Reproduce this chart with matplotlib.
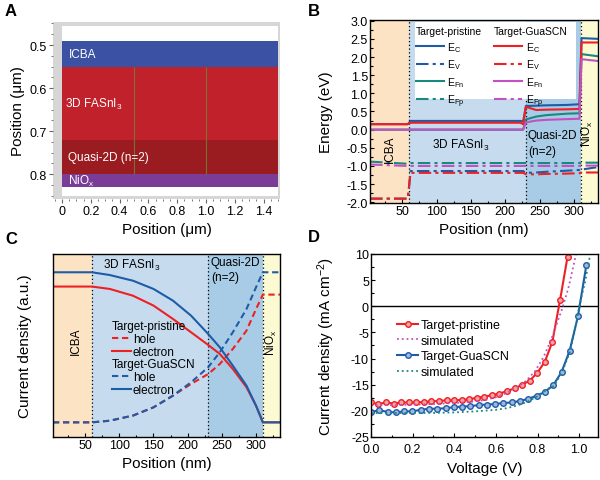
import matplotlib
matplotlib.use("Agg")
import matplotlib.pyplot as plt
import numpy as np
from matplotlib.lines import Line2D
from matplotlib.patches import Rectangle
from matplotlib.ticker import MultipleLocator

plt.rcParams['font.family'] = ['Liberation Sans', 'DejaVu Sans']
plt.rcParams['mathtext.fontset'] = 'custom'
plt.rcParams['mathtext.rm'] = 'Liberation Sans'
plt.rcParams['mathtext.it'] = 'Liberation Sans:italic'
plt.rcParams['mathtext.bf'] = 'Liberation Sans:bold'
plt.rcParams['axes.unicode_minus'] = False

# ---------------- panel A : device stack ----------------
layer_names = ['ICBA', '3D FASnI$_3$', 'Quasi-2D (n=2)', 'NiO$_\\mathrm{x}$']
layer_top = [0.49, 0.55, 0.72, 0.80]
layer_bottom = [0.55, 0.72, 0.80, 0.83]
layer_colors = ['#3b51a3', '#c0212b', '#9a1b20', '#7b3c98']
label_x = [0.05, 0.02, 0.04, 0.04]
mesh_x = [0.5, 1.0]
device_width = 1.5
domain_top, domain_bottom = 0.456, 0.851

# ---------------- regions for B and C ----------------
region_edges = [3, 60, 230, 310, 335]
region_colors = ['#fbe3c4', '#c6dcee', '#a9cce6', '#fcfad2']

# ---------------- panel B : band diagram ----------------
pos_B = [3, 58, 62, 222, 226, 230, 245, 260, 290, 308, 311, 335]
Ec_pristine = [0.15, 0.15, 0.24, 0.24, 0.23, 0.65, 0.66, 0.67, 0.68, 0.70, 2.52, 2.50]
Ec_gua = [0.15, 0.15, 0.19, 0.19, 0.15, 0.63, 0.54, 0.55, 0.56, 0.57, 2.40, 2.40]
Efn_pristine = [0.0, 0.0, 0.0, 0.0, 0.0, 0.28, 0.36, 0.40, 0.44, 0.45, 2.08, 2.02]
Efn_gua = [0.0, 0.0, 0.0, 0.0, 0.0, 0.20, 0.25, 0.27, 0.29, 0.30, 1.94, 1.89]
Ev_pristine = [-1.9, -1.9, -1.14, -1.14, -1.14, -1.19, -1.18, -1.16, -1.13, -1.11, -1.10, -1.03]
Ev_gua = [-1.9, -1.9, -1.19, -1.19, -1.19, -1.23, -1.23, -1.22, -1.21, -1.20, -1.18, -1.18]
Efp_pristine = [-0.88, -0.94, -0.92, -0.92, -0.92, -0.92, -0.92, -0.92, -0.92, -0.92, -0.91, -0.91]
Efp_gua = [-0.96, -1.0, -1.0, -1.0, -1.0, -1.0, -1.0, -1.0, -1.0, -1.0, -0.99, -0.99]

# ---------------- panel C : current density ----------------
pos_C = [3, 60, 86, 120, 150, 178.5, 205, 230, 247, 266, 286, 300, 310, 335]
je_gua = [0.90, 0.90, 0.885, 0.854, 0.809, 0.745, 0.663, 0.563, 0.49, 0.39, 0.281, 0.171, 0.08, 0.08]
je_pristine = [0.822, 0.822, 0.809, 0.772, 0.718, 0.645, 0.572, 0.503, 0.454, 0.372, 0.272, 0.171, 0.08, 0.08]
jh_gua = [0.08, 0.08, 0.089, 0.117, 0.162, 0.226, 0.299, 0.381, 0.463, 0.572, 0.699, 0.818, 0.90, 0.90]
jh_pristine = [0.08, 0.08, 0.089, 0.117, 0.162, 0.226, 0.29, 0.344, 0.399, 0.481, 0.581, 0.699, 0.778, 0.778]

# ---------------- panel D : J-V ----------------
V_pristine = [0.0, 0.036, 0.073, 0.109, 0.145, 0.182, 0.218, 0.254, 0.290, 0.327, 0.363, 0.399, 0.436,
              0.472, 0.508, 0.545, 0.581, 0.617, 0.654, 0.690, 0.726, 0.763, 0.799, 0.835, 0.871, 0.908, 0.944]
J_pristine = [-18.4, -18.7, -18.4, -18.6, -18.4, -18.4, -18.4, -18.3, -18.2, -18.1, -18.0, -18.0, -17.9,
              -17.8, -17.5, -17.3, -17.0, -16.7, -16.2, -15.7, -15.0, -14.2, -12.7, -10.6, -6.8, 1.2, 9.5]
V_gua = [0.0, 0.040, 0.080, 0.119, 0.159, 0.199, 0.239, 0.278, 0.318, 0.358, 0.398, 0.437, 0.477,
         0.517, 0.557, 0.597, 0.636, 0.676, 0.716, 0.756, 0.795, 0.835, 0.875, 0.915, 0.954, 0.994, 1.034]
J_gua = [-20.2, -19.9, -20.2, -20.3, -20.1, -20.1, -19.8, -19.6, -19.6, -19.5, -19.3, -19.2, -19.1,
         -18.9, -18.8, -18.7, -18.5, -18.4, -18.1, -17.7, -17.1, -16.4, -15.1, -12.6, -8.5, -1.9, 7.8]
V_sim_pristine = [0.0, 0.1, 0.2, 0.3, 0.4, 0.5, 0.55, 0.6, 0.65, 0.7, 0.744, 0.79, 0.83, 0.864, 0.9, 0.922, 0.95, 0.985, 1.0]
J_sim_pristine = [-18.9, -18.9, -18.8, -18.7, -18.5, -18.2, -17.9, -17.4, -16.6, -15.5, -14.3, -12.3, -9.6, -6.5, -2.5, 0.0, 3.8, 10.0, 12.5]
V_sim_gua = [0.0, 0.1, 0.2, 0.3, 0.4, 0.5, 0.6, 0.65, 0.7, 0.75, 0.8, 0.85, 0.88, 0.917, 0.955, 0.98, 1.0, 1.03, 1.053, 1.07]
J_sim_gua = [-20.4, -20.4, -20.4, -20.4, -20.3, -20.1, -19.8, -19.5, -19.0, -18.3, -17.2, -15.8, -15.2, -12.6, -8.8, -4.5, 0.0, 5.0, 10.0, 13.0]

blue = '#1f5ca8'
red = '#ee2024'
teal = '#17897f'
magenta = '#c251c2'
dashdot = (0, (6, 2, 1.5, 2))

fig = plt.figure(figsize=(6, 4.81), dpi=100)

# ===== A =====
axA = fig.add_axes([0.0883, 0.5842, 0.3783, 0.3680])
axA.set_facecolor('#d6d6d6')
axA.barh([domain_top], [device_width], height=[domain_bottom - domain_top], left=0,
         align='edge', color='white')
axA.barh(layer_top, device_width, height=np.subtract(layer_bottom, layer_top), left=0,
         align='edge', color=layer_colors)
axA.vlines(mesh_x, layer_top[1], layer_bottom[2], color='#7d7030', lw=0.8)
for name, x0, t, b in zip(layer_names, label_x, layer_top, layer_bottom):
    axA.text(x0, (t + b) / 2, name, color='white', fontsize=8.5, va='center', ha='left')
axA.set_xlim(-0.0625, 1.514)
axA.set_ylim(0.858, 0.4465)
for s in axA.spines.values():
    s.set_visible(False)
axA.set_xticks([0, 0.2, 0.4, 0.6, 0.8, 1.0, 1.2, 1.4])
axA.set_xticklabels(['0', '0.2', '0.4', '0.6', '0.8', '1.0', '1.2', '1.4'])
axA.set_yticks([0.5, 0.6, 0.7, 0.8])
axA.set_yticklabels(['0.5', '0.6', '0.7', '0.8'])
axA.xaxis.set_minor_locator(MultipleLocator(0.05))
axA.yaxis.set_minor_locator(MultipleLocator(0.025))
axA.tick_params(which='both', direction='out', color='#666666', labelsize=9, pad=1.5)
axA.tick_params(which='major', length=3)
axA.tick_params(which='minor', length=1.5)
axA.set_xlabel('Position (μm)', fontsize=11)
axA.set_ylabel('Position (μm)', fontsize=11)
axA.xaxis.set_label_coords(0.5, -0.128)
axA.yaxis.set_label_coords(-0.125, 0.5)


def shade(ax):
    for i in range(4):
        ax.axvspan(region_edges[i], region_edges[i + 1], color=region_colors[i], lw=0, zorder=0)
    for xb in region_edges[1:4]:
        ax.axvline(xb, color='k', ls=(0, (1, 2)), lw=0.9, zorder=1)


def style(ax):
    ax.tick_params(which='both', direction='in', labelsize=9, pad=1.5, width=0.8)
    ax.tick_params(which='major', length=3)
    ax.tick_params(which='minor', length=1.8)
    for s in ax.spines.values():
        s.set_linewidth(1.0)


# ===== B =====
axB = fig.add_axes([0.6167, 0.5759, 0.38, 0.3805])
shade(axB)
axB.plot(pos_B, Ec_pristine, color=blue, lw=1.5)
axB.plot(pos_B, Ev_pristine, color=blue, lw=1.5, ls=dashdot)
axB.plot(pos_B, Efn_pristine, color=teal, lw=1.5)
axB.plot(pos_B, Efp_pristine, color=teal, lw=1.5, ls=dashdot)
axB.plot(pos_B, Ec_gua, color=red, lw=1.5)
axB.plot(pos_B, Ev_gua, color=red, lw=1.5, ls=dashdot)
axB.plot(pos_B, Efn_gua, color=magenta, lw=1.5)
axB.plot(pos_B, Efp_gua, color=magenta, lw=1.5, ls=dashdot)
axB.text(32, -0.5, 'ICBA', rotation=90, fontsize=8.5, ha='center', va='center')
axB.text(135, -0.42, '3D FASnI$_3$', fontsize=8.5, ha='center', va='center')
axB.text(233, -0.14, 'Quasi-2D', fontsize=8.5, ha='left', va='center')
axB.text(233, -0.60, '(n=2)', fontsize=8.5, ha='left', va='center')
axB.text(319, -0.1, 'NiO$_\\mathrm{x}$', rotation=90, fontsize=8.5, ha='center', va='center')
axB.set_xlim(3, 335)
axB.set_ylim(-2.02, 3.02)
axB.set_xticks([50, 100, 150, 200, 250, 300])
axB.xaxis.set_minor_locator(MultipleLocator(25))
axB.set_yticks(np.arange(-2.0, 3.01, 0.5))
axB.set_yticklabels(['%.1f' % v for v in np.arange(-2.0, 3.01, 0.5)])
axB.yaxis.set_minor_locator(MultipleLocator(0.25))
style(axB)
axB.set_xlabel('Position (nm)', fontsize=11)
axB.set_ylabel('Energy (eV)', fontsize=11)
axB.xaxis.set_label_coords(0.5, -0.105)
axB.yaxis.set_label_coords(-0.162, 0.5)
axB.add_patch(Rectangle((0.197, 0.568), 0.707, 0.421, transform=axB.transAxes,
                        facecolor='white', edgecolor='none', zorder=4))
labB = ['E$_\\mathrm{C}$', 'E$_\\mathrm{V}$', 'E$_\\mathrm{Fn}$', 'E$_\\mathrm{Fp}$']
hB1 = [Line2D([], [], color=blue, lw=1.5), Line2D([], [], color=blue, lw=1.5, ls=dashdot),
       Line2D([], [], color=teal, lw=1.5), Line2D([], [], color=teal, lw=1.5, ls=dashdot)]
hB2 = [Line2D([], [], color=red, lw=1.5), Line2D([], [], color=red, lw=1.5, ls=dashdot),
       Line2D([], [], color=magenta, lw=1.5), Line2D([], [], color=magenta, lw=1.5, ls=dashdot)]
legB1 = axB.legend(hB1, labB, title='Target-pristine', alignment='left', loc='upper left',
                   bbox_to_anchor=(0.2, 0.965), frameon=False, fontsize=7.5, title_fontsize=7.5,
                   handlelength=2.7, handletextpad=0.3, labelspacing=0.35, borderpad=0,
                   borderaxespad=0)
axB.add_artist(legB1)
axB.legend(hB2, labB, title='Target-GuaSCN', alignment='left', loc='upper left',
           bbox_to_anchor=(0.545, 0.965), frameon=False, fontsize=7.5, title_fontsize=7.5,
           handlelength=2.7, handletextpad=0.3, labelspacing=0.35, borderpad=0, borderaxespad=0)

# ===== C =====
axC = fig.add_axes([0.0883, 0.0894, 0.3783, 0.3805])
shade(axC)
dashed = (0, (3, 1.8))
axC.plot(pos_C, jh_pristine, color=red, lw=1.5, ls=dashed)
axC.plot(pos_C, je_pristine, color=red, lw=1.5)
axC.plot(pos_C, jh_gua, color=blue, lw=1.5, ls=dashed)
axC.plot(pos_C, je_gua, color=blue, lw=1.5)
axC.text(36, 0.526, 'ICBA', rotation=90, fontsize=8.5, ha='center', va='center')
axC.text(118, 0.945, '3D FASnI$_3$', fontsize=8.5, ha='center', va='center')
axC.text(234, 0.955, 'Quasi-2D', fontsize=8.5, ha='left', va='center')
axC.text(234, 0.873, '(n=2)', fontsize=8.5, ha='left', va='center')
axC.text(322, 0.52, 'NiO$_\\mathrm{x}$', rotation=90, fontsize=8.5, ha='center', va='center')
axC.set_xlim(3, 335)
axC.set_ylim(0, 1)
axC.set_xticks([50, 100, 150, 200, 250, 300])
axC.xaxis.set_minor_locator(MultipleLocator(25))
axC.set_yticks([])
style(axC)
axC.set_xlabel('Position (nm)', fontsize=11)
axC.set_ylabel('Current density (a.u.)', fontsize=11)
axC.xaxis.set_label_coords(0.5, -0.102)
axC.yaxis.set_label_coords(-0.093, 0.5)
hC1 = [Line2D([], [], color=red, lw=1.5, ls=dashed), Line2D([], [], color=red, lw=1.5)]
hC2 = [Line2D([], [], color=blue, lw=1.5, ls=dashed), Line2D([], [], color=blue, lw=1.5)]
legC1 = axC.legend(hC1, ['hole', 'electron'], title='Target-pristine', alignment='left',
                   loc='upper left', bbox_to_anchor=(0.26, 0.64), frameon=False, fontsize=8.5,
                   title_fontsize=8.5, handlelength=1.6, handletextpad=0.15, labelspacing=0.08,
                   borderpad=0, borderaxespad=0)
axC.add_artist(legC1)
axC.legend(hC2, ['hole', 'electron'], title='Target-GuaSCN', alignment='left',
           loc='upper left', bbox_to_anchor=(0.26, 0.43), frameon=False, fontsize=8.5,
           title_fontsize=8.5, handlelength=1.6, handletextpad=0.15, labelspacing=0.08,
           borderpad=0, borderaxespad=0)

# ===== D =====
axD = fig.add_axes([0.6183, 0.0894, 0.3783, 0.3805])
axD.axhline(0, color='k', lw=1.0)
axD.plot(V_pristine, J_pristine, color=red, lw=1.5, marker='o', ms=4, mfc='#f6a3a3', mec=red,
         mew=1.0, label='Target-pristine')
axD.plot(V_sim_pristine, J_sim_pristine, color=magenta, lw=1.3, ls=':', label='simulated')
axD.plot(V_gua, J_gua, color=blue, lw=1.5, marker='o', ms=4, mfc='#9fb9de', mec=blue,
         mew=1.0, label='Target-GuaSCN')
axD.plot(V_sim_gua, J_sim_gua, color=teal, lw=1.3, ls=':', label='simulated')
axD.set_xlim(0, 1.09)
axD.set_ylim(-25, 10)
axD.set_xticks([0.0, 0.2, 0.4, 0.6, 0.8, 1.0])
axD.set_xticklabels(['0.0', '0.2', '0.4', '0.6', '0.8', '1.0'])
axD.xaxis.set_minor_locator(MultipleLocator(0.1))
axD.set_yticks([-25, -20, -15, -10, -5, 0, 5, 10])
axD.yaxis.set_minor_locator(MultipleLocator(2.5))
style(axD)
axD.tick_params(axis='x', pad=4.5)
axD.set_xlabel('Voltage (V)', fontsize=11)
axD.set_ylabel('Current density (mA cm$^{-2}$)', fontsize=11)
axD.xaxis.set_label_coords(0.5, -0.13)
axD.yaxis.set_label_coords(-0.15, 0.5)
axD.legend(loc='upper left', bbox_to_anchor=(0.115, 0.645), frameon=False, fontsize=9,
           handlelength=1.7, handletextpad=0.2, labelspacing=0.3, borderpad=0, borderaxespad=0)

for lab, x, y in [('A', 11, 11), ('B', 314, 11), ('C', 11, 239), ('D', 314, 238)]:
    fig.text(x / 600, 1 - y / 481, lab, fontsize=12, fontweight='bold', ha='center', va='center')

fig.savefig('out.png', dpi=100)
